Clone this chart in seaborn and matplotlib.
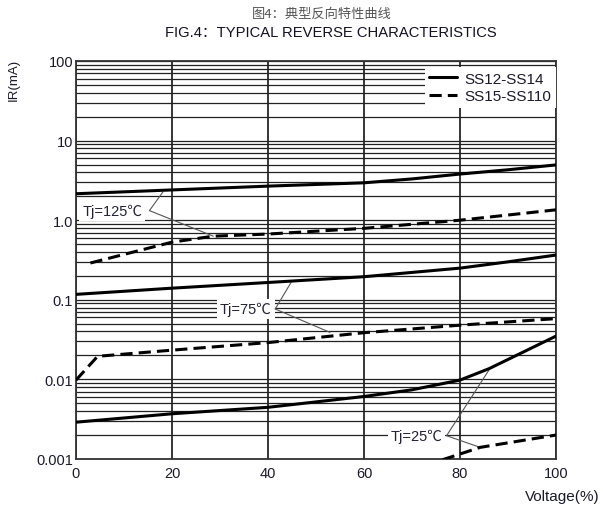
import numpy as np
import matplotlib
matplotlib.use("Agg")
import matplotlib.pyplot as plt
import matplotlib.ticker as mticker
import seaborn as sns

# curves (x = % of rated voltage, y = IR in mA)
volt_125_s = [0, 20, 40, 60, 70, 80, 90, 100]
ir_125_s = [2.15, 2.4, 2.68, 2.95, 3.3, 3.8, 4.3, 4.95]
volt_125_d = [3, 20, 28.6, 40, 60, 80, 100]
ir_125_d = [0.29, 0.53, 0.63, 0.67, 0.79, 1.0, 1.35]

volt_75_s = [0, 20, 40, 60, 80, 90, 100]
ir_75_s = [0.117, 0.14, 0.165, 0.195, 0.25, 0.3, 0.365]
volt_75_d = [0, 4.5, 20, 40, 60, 80, 100]
ir_75_d = [0.0098, 0.0195, 0.0233, 0.029, 0.0386, 0.048, 0.058]

volt_25_s = [0, 20, 40, 60, 70, 80, 86, 90, 100]
ir_25_s = [0.0029, 0.0037, 0.00446, 0.0061, 0.0074, 0.0098, 0.0136, 0.0178, 0.035]
volt_25_d = [76.4, 84.2, 100]
ir_25_d = [0.00098, 0.0014, 0.002]

x_ticks = [0, 20, 40, 60, 80, 100]
y_ticks = [0.001, 0.01, 0.1, 1, 10, 100]
y_tick_labels = ['0.001', '0.01', '0.1', '1.0', '10', '100']
series_names = ['SS12-SS14', 'SS15-SS110']

# annotation: label, text anchor (right end), vertex, point on solid, point on dashed
notes = [
    ('Tj=125℃', (13.8, 1.32), (15.3, 1.32), (18.1, 2.26), (28.6, 0.63)),
    ('Tj=75℃', (40.8, 0.0766), (41.5, 0.0766), (44.9, 0.169), (52.9, 0.039)),
    ('Tj=25℃', (76.3, 0.00196), (77.2, 0.00196), (86.2, 0.0136), (84.2, 0.0014)),
]

sns.set_style("white")
plt.rcParams['font.family'] = ['Liberation Sans', 'Noto Sans CJK SC', 'DejaVu Sans']

fig = plt.figure(figsize=(6.03, 5.10), dpi=100)
ax = fig.add_axes([76 / 603, 1 - 460 / 510, 480 / 603, 398 / 510])

dash = (0, (4, 2))
lw = 2.2
sns.lineplot(x=volt_125_s, y=ir_125_s, ax=ax, color='black', linewidth=lw, label=series_names[0], zorder=4)
sns.lineplot(x=volt_125_d, y=ir_125_d, ax=ax, color='black', linewidth=lw, linestyle=dash, label=series_names[1], zorder=4)
sns.lineplot(x=volt_75_s, y=ir_75_s, ax=ax, color='black', linewidth=lw, zorder=4)
sns.lineplot(x=volt_75_d, y=ir_75_d, ax=ax, color='black', linewidth=lw, linestyle=dash, zorder=4)
sns.lineplot(x=volt_25_s, y=ir_25_s, ax=ax, color='black', linewidth=lw, zorder=4)
sns.lineplot(x=volt_25_d, y=ir_25_d, ax=ax, color='black', linewidth=lw, linestyle=dash, zorder=4)

ax.set_yscale('log')
ax.set_xlim(0, 100)
ax.set_ylim(0.001, 100)
ax.set_xticks(x_ticks)
ax.set_xticklabels([str(t) for t in x_ticks])
ax.set_yticks(y_ticks)
ax.set_yticklabels(y_tick_labels)
ax.yaxis.set_minor_locator(mticker.LogLocator(base=10, subs=np.arange(2, 10), numticks=20))
ax.yaxis.set_minor_formatter(mticker.NullFormatter())
ax.tick_params(which='both', length=0, labelsize=10.5, colors='#1a1a2a')
ax.tick_params(axis='x', pad=5)
ax.tick_params(axis='y', pad=2)
ax.set_xlabel('')
ax.set_ylabel('')

ax.grid(True, axis='x', which='major', color='black', linewidth=1.1)
ax.grid(True, axis='y', which='both', color='#222222', linewidth=0.9)
ax.set_axisbelow(True)
for sp in ax.spines.values():
    sp.set_color('#333333')
    sp.set_linewidth(1.3)

for label, txt, vtx, p_solid, p_dash in notes:
    ax.text(txt[0], txt[1], label, ha='right', va='center', fontsize=10.5, color='#222233',
            bbox=dict(facecolor='white', edgecolor='none', pad=2.0), zorder=3)
    for p in (p_solid, p_dash):
        ax.annotate('', xy=p, xytext=vtx,
                    arrowprops=dict(arrowstyle='-', color='#555555', lw=0.8,
                                    shrinkA=0, shrinkB=0), zorder=3)

leg = ax.legend(loc='upper right', bbox_to_anchor=(1.0, 0.985), fontsize=11,
                frameon=True, fancybox=False, framealpha=1, borderpad=0.3,
                handlelength=1.8, handletextpad=0.5, labelspacing=0.25,
                borderaxespad=0.0)
leg.get_frame().set_edgecolor('none')
leg.get_frame().set_facecolor('white')
for t in leg.get_texts():
    t.set_color('#1a1a2a')

fig.text(322 / 603, 1 - 14 / 510, '图4：典型反向特性曲线', ha='center', va='center',
         fontsize=9.5, color='#555555', family=['Noto Sans CJK SC', 'DejaVu Sans'])
fig.text(331 / 603, 1 - 33 / 510, 'FIG.4：TYPICAL REVERSE CHARACTERISTICS', ha='center', va='center',
         fontsize=10.6, color='#111122')
fig.text(14 / 603, 1 - 80 / 510, 'IR(mA)', rotation=90, ha='center', va='center',
         fontsize=9.5, color='#1a1a2a')
fig.text(600 / 603, 1 - 497 / 510, 'Voltage(%)', ha='right', va='center',
         fontsize=11, color='#1a1a2a')

fig.savefig('out.png', dpi=100)
